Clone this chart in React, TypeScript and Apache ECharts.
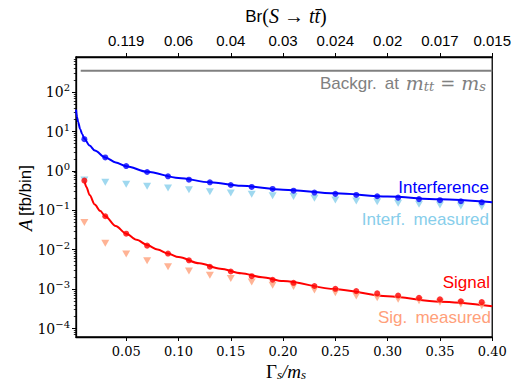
import React, { useEffect, useRef } from 'react';
import * as echarts from 'echarts';

// Γ_s / m_s of the measured points
const GAMMA = [0.01, 0.03, 0.05, 0.07, 0.09, 0.11, 0.13, 0.15, 0.17, 0.19, 0.21, 0.23, 0.25, 0.27, 0.29, 0.31, 0.33, 0.35, 0.37, 0.39];
const INTERF = [6.4, 2.2, 1.33, 0.94, 0.73, 0.6, 0.515, 0.44, 0.393, 0.35, 0.315, 0.283, 0.262, 0.246, 0.228, 0.21, 0.193, 0.181, 0.17, 0.16];
const INTERF_MEAS = [0.59, 0.517, 0.459, 0.409, 0.37, 0.335, 0.298, 0.277, 0.256, 0.236, 0.223, 0.203, 0.184, 0.173, 0.166, 0.151, 0.143, 0.137, 0.129, 0.124];
const SIGNAL = [0.567, 0.0708, 0.0256, 0.0127, 0.008, 0.0054, 0.0037, 0.0028, 0.00213, 0.00173, 0.00145, 0.0012, 0.00102, 0.00089, 0.00078, 0.00069, 0.0006, 0.00055, 0.00049, 0.00047];
const SIG_MEAS = [0.0488, 0.0146, 0.00782, 0.00529, 0.00372, 0.0029, 0.00225, 0.00185, 0.00152, 0.00126, 0.00116, 0.000955, 0.000815, 0.000672, 0.000608, 0.000554, 0.000511, 0.000465, 0.000421, 0.000381];

// fitted curves
const INTERF_FIT_X = [0.002, 0.003, 0.004, 0.006, 0.008, 0.01, 0.015, 0.02, 0.03, 0.04, 0.05, 0.07, 0.1, 0.13, 0.16, 0.2, 0.25, 0.3, 0.35, 0.4];
const INTERF_FIT_Y = [36, 23.5, 17.5, 11.5, 8.5, 6.6, 4.4, 3.3, 2.2, 1.65, 1.32, 0.95, 0.665, 0.515, 0.42, 0.335, 0.27, 0.225, 0.19, 0.16];
const SIGNAL_FIT_X = [0.01, 0.012, 0.015, 0.02, 0.025, 0.03, 0.04, 0.05, 0.06, 0.07, 0.08, 0.09, 0.1, 0.12, 0.14, 0.16, 0.18, 0.2, 0.25, 0.3, 0.35, 0.4];
const SIGNAL_FIT_Y = [0.567, 0.39, 0.245, 0.14, 0.097, 0.071, 0.04, 0.0256, 0.0179, 0.0132, 0.0101, 0.008, 0.0065, 0.00452, 0.00331, 0.00253, 0.002, 0.0016, 0.001, 0.00066, 0.00048, 0.00037];

// background level at m_tt = m_s
const BKG_X = [0.0065, 0.4];
const BKG_Y = [350, 350];

// ticks
const X_TICKS = [0.05, 0.1, 0.15, 0.2, 0.25, 0.3, 0.35, 0.4];
const BR_LABELS = ['0.119', '0.06', '0.04', '0.03', '0.024', '0.02', '0.017', '0.015'];
const Y_TICKS = [1e-4, 1e-3, 1e-2, 1e-1, 1, 10, 100];
const Y_MINOR: number[] = [];
for (let e = -5; e <= 2; e++) for (let m = 2; m <= 9; m++) Y_MINOR.push(+(m * Math.pow(10, e)).toPrecision(3));

const X_MIN = 0.002;
const X_MAX = 0.4;
const Y_MIN = 6.1e-5;
const Y_MAX = 780;

const SANS = 'Liberation Sans';
const SERIF = 'DejaVu Serif';
const MATH = 'Liberation Serif';

const zip = (xs: number[], ys: number[]) => xs.map((x, i) => [x, ys[i]]);

export default function App() {
  const ref = useRef<HTMLDivElement>(null);
  useEffect(() => {
    const chart = echarts.init(ref.current!, null, { renderer: 'svg' });
    const GRAY = '#808080';
    const option: any = {
      animation: false,
      grid: { left: 76, top: 57, width: 420, height: 280, show: true, borderColor: '#000', borderWidth: 1.3, backgroundColor: 'transparent' },
      xAxis: [
        {
          type: 'value', min: X_MIN, max: X_MAX, position: 'bottom',
          axisLine: { show: true, lineStyle: { color: '#000', width: 1.3 } },
          axisTick: { show: true, inside: false, length: 4, lineStyle: { color: '#000', width: 1 }, customValues: X_TICKS },
          axisLabel: { customValues: X_TICKS, formatter: (v: number) => v.toFixed(2), fontFamily: SERIF, fontSize: 13, color: '#000', margin: 8 },
          splitLine: { show: false },
        },
        {
          type: 'value', min: X_MIN, max: X_MAX, position: 'top',
          axisLine: { show: true, lineStyle: { color: '#000', width: 1.3 } },
          axisTick: { show: true, inside: false, length: 4, lineStyle: { color: '#000', width: 1 }, customValues: X_TICKS },
          axisLabel: {
            customValues: X_TICKS,
            formatter: (v: number) => BR_LABELS[X_TICKS.findIndex((t) => Math.abs(t - v) < 1e-9)] ?? '',
            fontFamily: SANS, fontSize: 15, color: '#000', margin: 9,
          },
          splitLine: { show: false },
        },
      ],
      yAxis: [
        {
          type: 'log', logBase: 10, min: Y_MIN, max: Y_MAX, position: 'left',
          axisLine: { show: true, onZero: false, lineStyle: { color: '#000', width: 1.3 } },
          axisTick: { show: true, inside: false, length: 4, lineStyle: { color: '#000', width: 1 }, customValues: Y_TICKS },
          axisLabel: {
            customValues: Y_TICKS,
            margin: 6,
            formatter: (v: number) => {
              const e = Math.round(Math.log10(v));
              return '{b|10}{s|' + (e < 0 ? '\u2212' + -e : String(e)) + '}';
            },
            rich: {
              b: { fontFamily: SERIF, fontSize: 14, color: '#000' },
              s: { fontFamily: SERIF, fontSize: 10, color: '#000', padding: [0, 0, 9, 0] },
            },
          },
          splitLine: { show: false },
        },
        {
          type: 'log', logBase: 10, min: Y_MIN, max: Y_MAX, position: 'left',
          axisLine: { show: false },
          axisTick: { show: true, inside: false, length: 2.2, lineStyle: { color: '#000', width: 0.8 }, customValues: Y_MINOR },
          axisLabel: { show: false },
          splitLine: { show: false },
        },
      ],
      graphic: [
        {
          type: 'text',
          style: {
            text: '{sf|Br}{rm|(}{it|S}{rm| \u2192 }{it|tt\u0304}{rm|)}',
            x: 286, y: 16, align: 'center', verticalAlign: 'middle',
            rich: {
              sf: { fontFamily: SANS, fontSize: 17, fill: '#000', lineHeight: 22 },
              rm: { fontFamily: MATH, fontSize: 20, fill: '#000', lineHeight: 22 },
              it: { fontFamily: MATH, fontSize: 20, fontStyle: 'italic', fill: '#000', lineHeight: 22 },
            },
          },
        },
        {
          type: 'text',
          style: {
            text: '{g|\u0393}{sub|s}{it|/m}{sub|s}',
            x: 286, y: 371, align: 'center', verticalAlign: 'middle',
            rich: {
              g: { fontFamily: MATH, fontSize: 19, fill: '#000' },
              it: { fontFamily: MATH, fontSize: 19, fontStyle: 'italic', fill: '#000' },
              sub: { fontFamily: MATH, fontSize: 13, fontStyle: 'italic', fill: '#000', padding: [6, 0, 0, 0] },
            },
          },
        },
        {
          type: 'text', x: 25, y: 198, rotation: Math.PI / 2,
          style: {
            text: '{it|A} {sf|[fb/bin]}',
            x: 0, y: 0, align: 'center', verticalAlign: 'middle',
            rich: {
              it: { fontFamily: MATH, fontSize: 19, fontStyle: 'italic', fill: '#000' },
              sf: { fontFamily: SANS, fontSize: 17, fill: '#000' },
            },
          },
        },
        {
          type: 'text',
          style: {
            text: '{sf|Backgr.\u2009 at }{it|m}{sub|tt}{eq|=}{it|m}{sub|s}',
            x: 486, y: 83, align: 'right', verticalAlign: 'middle',
            rich: {
              sf: { fontFamily: SANS, fontSize: 17, fill: GRAY, padding: [0, 2, 0, 0] },
              it: { fontFamily: SERIF, fontSize: 19, fontStyle: 'italic', fill: GRAY },
              eq: { fontFamily: SERIF, fontSize: 18, fill: GRAY, padding: [0, 6, 0, 6] },
              sub: { fontFamily: SERIF, fontSize: 13, fontStyle: 'italic', fill: GRAY, padding: [7, 0, 0, 0] },
            },
          },
        },
        { type: 'text', style: { text: 'Interference', x: 489, y: 187, align: 'right', verticalAlign: 'middle', fontFamily: SANS, fontSize: 17, fill: '#0000ff' } },
        { type: 'text', style: { text: 'Interf.\u2009 measured', x: 489, y: 219, align: 'right', verticalAlign: 'middle', fontFamily: SANS, fontSize: 17, fill: '#87ceeb' } },
        { type: 'text', style: { text: 'Signal', x: 490, y: 282, align: 'right', verticalAlign: 'middle', fontFamily: SANS, fontSize: 17, fill: '#ff0000' } },
        { type: 'text', style: { text: 'Sig.\u2009 measured', x: 491, y: 317, align: 'right', verticalAlign: 'middle', fontFamily: SANS, fontSize: 17, fill: '#ffa07a' } },
      ],
      series: [
        {
          type: 'line', data: zip(BKG_X, BKG_Y), symbol: 'none', lineStyle: { color: GRAY, width: 2 }, z: 2,
        },
        {
          type: 'line', data: zip(INTERF_FIT_X, INTERF_FIT_Y), symbol: 'none', smooth: 0.3, smoothMonotone: 'x',
          lineStyle: { color: '#0000ff', width: 2 }, z: 3,
        },
        {
          type: 'line', data: zip(SIGNAL_FIT_X, SIGNAL_FIT_Y), symbol: 'none', smooth: 0.3, smoothMonotone: 'x',
          lineStyle: { color: '#ff0000', width: 2 }, z: 3,
        },
        {
          type: 'scatter', data: zip(GAMMA, INTERF_MEAS), symbol: 'triangle', symbolRotate: 180, symbolSize: [8, 7],
          itemStyle: { color: '#87ceeb' }, z: 4,
        },
        {
          type: 'scatter', data: zip(GAMMA, SIG_MEAS), symbol: 'triangle', symbolRotate: 180, symbolSize: [8, 7],
          itemStyle: { color: '#ffa07a' }, z: 4,
        },
        {
          type: 'scatter', data: zip(GAMMA, INTERF), symbol: 'circle', symbolSize: 6,
          itemStyle: { color: '#0000ff' }, z: 5,
        },
        {
          type: 'scatter', data: zip(GAMMA, SIGNAL), symbol: 'circle', symbolSize: 6,
          itemStyle: { color: '#ff0000' }, z: 5,
        },
      ],
    };
    chart.setOption(option);
    return () => chart.dispose();
  }, []);
  return <div ref={ref} style={{ position: 'fixed', left: 0, top: 0, width: 514, height: 382, background: '#fff' }} />;
}
